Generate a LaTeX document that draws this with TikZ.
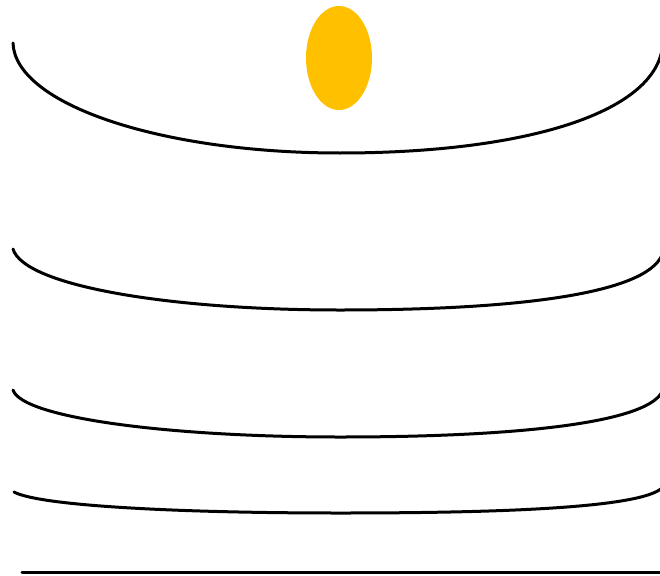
\documentclass[tikz,border=0pt]{standalone}
\definecolor{gold}{HTML}{FFC000}
\begin{document}
\begin{tikzpicture}[x=1pt,y=-1pt,
  curve/.style={line width=3pt,line cap=round,black}]
\useasboundingbox (0,0) rectangle (660,575);
\fill[gold] (339,58) ellipse [x radius=33, y radius=52];
% curve 1
\draw[curve] (13,43) .. controls (15,104) and (160,153) .. (340,153)
  .. controls (520,153) and (650,115) .. (662,50);
% curve 2
\draw[curve] (13,249) .. controls (24,286) and (170,310) .. (340,310)
  .. controls (510,310) and (645,295) .. (662,255);
% curve 3
\draw[curve] (13,390) .. controls (22,418) and (170,437) .. (340,437)
  .. controls (510,437) and (645,424) .. (662,392);
% curve 4
\draw[curve] (14,492) .. controls (40,506) and (180,513) .. (340,513)
  .. controls (500,513) and (640,508) .. (662,488);
% bottom line
\draw[curve] (22,572) -- (662,572);
\end{tikzpicture}
\end{document}
